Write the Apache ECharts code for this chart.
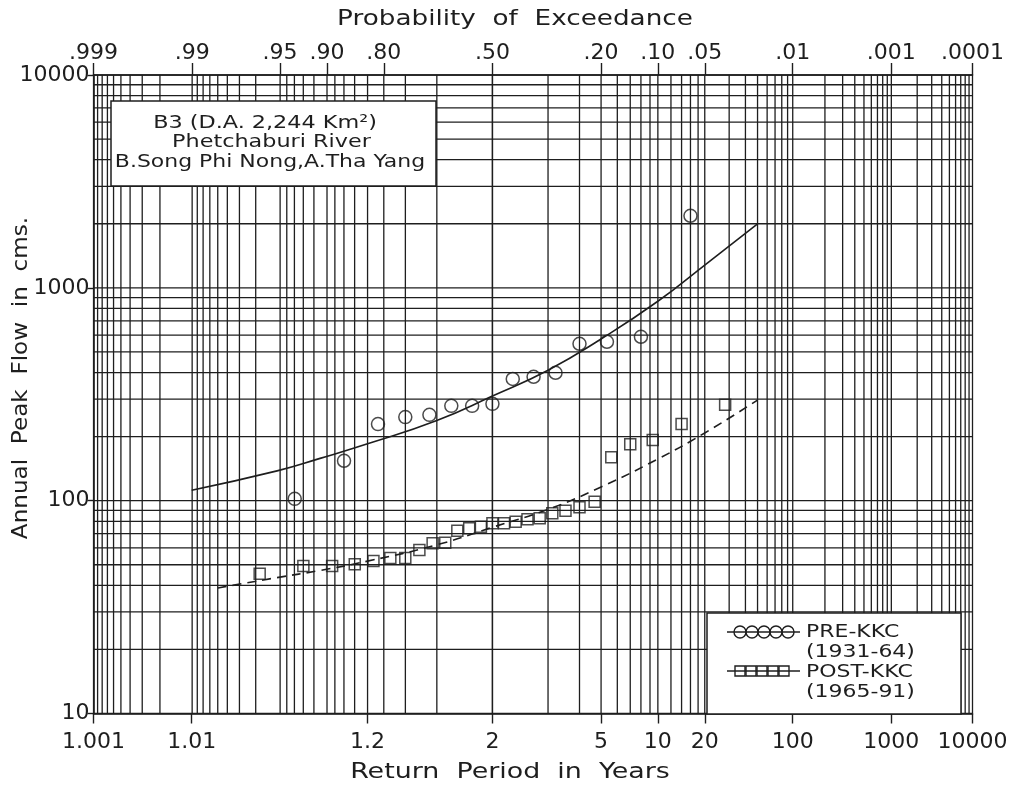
<!DOCTYPE html>
<html>
<head>
<meta charset="utf-8">
<script src="https://cdn.jsdelivr.net/npm/echarts@6/dist/echarts.min.js"></script>
<style>
html,body{margin:0;padding:0;background:#fff;}
#chart{width:1029px;height:789px;}
</style>
</head>
<body>
<div id="chart"></div>
<script>
// ---------------- data ----------------
// Bottom axis: return period ticks
const retTickValues = [1.001, 1.01, 1.2, 2, 5, 10, 20, 100, 1000, 10000];
const retTickLabels = ['1.001', '1.01', '1.2', '2', '5', '10', '20', '100', '1000', '10000'];
// Top axis: probability of exceedance ticks
const probTickValues = [0.999, 0.99, 0.95, 0.90, 0.80, 0.50, 0.20, 0.10, 0.05, 0.01, 0.001, 0.0001];
const probTickLabels = ['.999', '.99', '.95', '.90', '.80', '.50', '.20', '.10', '.05', '.01', '.001', '.0001'];
// Y axis ticks
const flowTickValues = [10, 100, 1000, 10000];
// Probability-paper grid: return periods (right half) mirrored on the left half
const gridPeriods = [2, 3, 4, 5, 6, 7, 8, 9, 10, 12, 14, 16, 18, 20, 30, 40, 50, 60, 70, 80, 90,
  100, 200, 300, 400, 500, 600, 700, 800, 900, 1000, 2000, 3000, 4000, 5000, 6000, 7000, 8000, 9000, 10000];
const gridFlows = [10, 20, 30, 40, 50, 60, 70, 80, 90, 100, 200, 300, 400, 500, 600, 700, 800, 900,
  1000, 2000, 3000, 4000, 5000, 6000, 7000, 8000, 9000, 10000];

// PRE-KKC (1931-64): observed points (return period, annual peak flow cms)
const preT = [16, 8, 5.333, 4, 3.2, 2.667, 2.286, 2, 1.778, 1.6, 1.455, 1.333, 1.231, 1.143, 1.067];
const preQ = [2180, 589, 558, 546, 399, 382, 373, 285, 279, 279, 253, 247, 229, 154, 102];
// PRE-KKC fitted curve
const preFitT = [1.01, 1.05, 1.1, 1.2, 1.5, 2, 3, 5, 10, 20, 50];
const preFitQ = [112, 138, 158, 185, 238, 310, 410, 575, 865, 1280, 2000];

// POST-KKC (1965-91): observed points
const postT = [28, 14, 9.333, 7, 5.6, 4.667, 4, 3.5, 3.111, 2.8, 2.545, 2.333, 2.154, 2, 1.867, 1.75,
  1.647, 1.556, 1.474, 1.4, 1.333, 1.273, 1.217, 1.167, 1.12, 1.077, 1.037];
const postQ = [282, 229, 193, 184, 160, 98.9, 93.1, 89.6, 87.3, 82.6, 81.8, 79.6, 78.3, 78.3, 75.5, 74.1,
  72.3, 63.5, 63.1, 58.6, 53.8, 53.8, 52, 50.3, 49.3, 49.3, 45.3];
// POST-KKC fitted curve
const postFitT = [1.017, 1.05, 1.1, 1.2, 1.5, 2, 3, 5, 10, 20, 50];
const postFitQ = [38.9, 43.5, 47, 52, 62, 75, 91, 116, 157, 208, 297];

// ---------------- normal-probability scale helpers ----------------
function normInv(p) {
  const a = [-3.969683028665376e+01, 2.209460984245205e+02, -2.759285104469687e+02, 1.383577518672690e+02, -3.066479806614716e+01, 2.506628277459239e+00];
  const b = [-5.447609879822406e+01, 1.615858368580409e+02, -1.556989798598866e+02, 6.680131188771972e+01, -1.328068155288572e+01];
  const c = [-7.784894002430293e-03, -3.223964580411365e-01, -2.400758277161838e+00, -2.549732539343734e+00, 4.374664141464968e+00, 2.938163982698783e+00];
  const d = [7.784695709041462e-03, 3.224671290700398e-01, 2.445134137142996e+00, 3.754408661907416e+00];
  const pl = 0.02425, ph = 1 - pl;
  let q, r;
  if (p < pl) {
    q = Math.sqrt(-2 * Math.log(p));
    return (((((c[0]*q+c[1])*q+c[2])*q+c[3])*q+c[4])*q+c[5]) / ((((d[0]*q+d[1])*q+d[2])*q+d[3])*q+1);
  }
  if (p <= ph) {
    q = p - 0.5; r = q * q;
    return (((((a[0]*r+a[1])*r+a[2])*r+a[3])*r+a[4])*r+a[5])*q / (((((b[0]*r+b[1])*r+b[2])*r+b[3])*r+b[4])*r+1);
  }
  q = Math.sqrt(-2 * Math.log(1 - p));
  return -(((((c[0]*q+c[1])*q+c[2])*q+c[3])*q+c[4])*q+c[5]) / ((((d[0]*q+d[1])*q+d[2])*q+d[3])*q+1);
}
const zOfP = P => normInv(1 - P);        // exceedance probability -> normal variate
const zOfT = T => normInv(1 - 1 / T);    // return period -> normal variate

const X_MIN = zOfT(1.001), X_MAX = zOfT(10000);
const Y_MIN = 10, Y_MAX = 10000;

const retTickZ = retTickValues.map(zOfT);
const probTickZ = probTickValues.map(zOfP);
const gridZ = gridPeriods.map(zOfT).concat(gridPeriods.filter(n => n <= 1000).map(n => normInv(1 / n)));

function nearestLabel(v, zs, labels) {
  let best = 0;
  for (let i = 1; i < zs.length; i++) if (Math.abs(zs[i] - v) < Math.abs(zs[best] - v)) best = i;
  return labels[best];
}

const INK = '#1e1e1e';
const FONT = 'DejaVu Sans';

const chart = echarts.init(document.getElementById('chart'), null, {renderer: 'canvas'});

function txt(text, x, y, size, sx, align, extra) {
  return Object.assign({
    type: 'text', x: x, y: y, z: 50, scaleX: sx, scaleY: 1,
    style: {text: text, fill: INK, font: size + 'px "DejaVu Sans"', textAlign: align, textVerticalAlign: 'middle'}
  }, extra || {});
}

const option = {
  animation: false,
  backgroundColor: '#ffffff',
  grid: {left: 93.5, right: 56.5, top: 75, bottom: 75.5, containLabel: false},
  xAxis: [
    {
      type: 'value', position: 'bottom', min: X_MIN, max: X_MAX,
      axisLine: {show: true, onZero: false, lineStyle: {color: INK, width: 1.6}},
      axisTick: {show: true, inside: false, length: 10, lineStyle: {color: INK, width: 1.4}, customValues: retTickZ},
      axisLabel: {show: true, customValues: retTickZ, margin: 18, color: INK, fontFamily: FONT, fontSize: 22,
        formatter: v => nearestLabel(v, retTickZ, retTickLabels)},
      splitLine: {show: false}
    },
    {
      type: 'value', position: 'top', min: X_MIN, max: X_MAX,
      axisLine: {show: true, onZero: false, lineStyle: {color: INK, width: 1.6}},
      axisTick: {show: true, inside: false, length: 12, lineStyle: {color: INK, width: 1.4}, customValues: probTickZ},
      axisLabel: {show: true, customValues: probTickZ, margin: 11, color: INK, fontFamily: FONT, fontSize: 22,
        formatter: v => nearestLabel(v, probTickZ, probTickLabels)},
      splitLine: {show: false}
    }
  ],
  yAxis: {
    type: 'log', logBase: 10, min: Y_MIN, max: Y_MAX,
    axisLine: {show: true, onZero: false, lineStyle: {color: INK, width: 1.6}},
    axisTick: {show: true, inside: false, length: 6, lineStyle: {color: INK, width: 1.4}},
    axisLabel: {show: true, margin: 4, color: INK, fontFamily: FONT, fontSize: 22,
      formatter: v => String(Math.round(v))},
    splitLine: {show: false},
    minorTick: {show: false}
  },
  series: [
    {
      name: 'vgrid', type: 'custom', silent: true, z: 1, xAxisIndex: 0, yAxisIndex: 0,
      data: gridZ.map(z => [z, Y_MIN]),
      encode: {x: 0, y: 1},
      renderItem: (params, api) => {
        const x = api.value(0);
        const a = api.coord([x, Y_MIN]);
        const b = api.coord([x, Y_MAX]);
        return {type: 'line', shape: {x1: a[0], y1: a[1], x2: b[0], y2: b[1]},
          style: {stroke: INK, lineWidth: 1.3}};
      }
    },
    {
      name: 'hgrid', type: 'custom', silent: true, z: 1, xAxisIndex: 0, yAxisIndex: 0,
      data: gridFlows.map(q => [X_MIN, q]),
      encode: {x: 0, y: 1},
      renderItem: (params, api) => {
        const y = api.value(1);
        const a = api.coord([X_MIN, y]);
        const b = api.coord([X_MAX, y]);
        return {type: 'line', shape: {x1: a[0], y1: a[1], x2: b[0], y2: b[1]},
          style: {stroke: INK, lineWidth: 1.3}};
      }
    },
    {
      name: 'PRE-KKC fit', type: 'line', z: 5, smooth: 0.5, showSymbol: false, silent: true,
      data: preFitT.map((t, i) => [zOfT(t), preFitQ[i]]),
      lineStyle: {color: INK, width: 1.6}
    },
    {
      name: 'POST-KKC fit', type: 'line', z: 5, smooth: 0.5, showSymbol: false, silent: true,
      data: postFitT.map((t, i) => [zOfT(t), postFitQ[i]]),
      lineStyle: {color: INK, width: 1.6, type: [9, 6]}
    },
    {
      name: 'PRE-KKC', type: 'scatter', z: 6, symbol: 'circle', symbolSize: 13, silent: true,
      data: preT.map((t, i) => [zOfT(t), preQ[i]]),
      itemStyle: {color: 'rgba(255,255,255,0)', borderColor: INK, borderWidth: 1.5}
    },
    {
      name: 'POST-KKC', type: 'scatter', z: 6, symbol: 'rect', symbolSize: 11, silent: true,
      data: postT.map((t, i) => [zOfT(t), postQ[i]]),
      itemStyle: {color: 'rgba(255,255,255,0)', borderColor: INK, borderWidth: 1.5}
    }
  ],
  graphic: {
    elements: [
      // axis titles
      txt('Probability  of  Exceedance', 515, 20, 21, 1.25, 'center'),
      txt('Return  Period  in  Years', 510, 773, 21, 1.28, 'center'),
      {type: 'text', x: 22, y: 378, rotation: Math.PI / 2, scaleX: 1.1, scaleY: 1, z: 50,
        style: {text: 'Annual  Peak  Flow  in  cms.', fill: INK, font: '21px "DejaVu Sans"', textAlign: 'center', textVerticalAlign: 'middle'}},
      // station box
      {type: 'rect', z: 40, shape: {x: 111, y: 101, width: 325, height: 85},
        style: {fill: '#fff', stroke: INK, lineWidth: 1.5}},
      txt('B3 (D.A. 2,244 Km²)', 265, 123, 18, 1.24, 'center'),
      txt('Phetchaburi River', 271.5, 142, 18, 1.24, 'center'),
      txt('B.Song Phi Nong,A.Tha Yang', 270, 162, 18, 1.22, 'center'),
      // legend box
      {type: 'rect', z: 40, shape: {x: 707, y: 613, width: 254, height: 101},
        style: {fill: '#fff', stroke: INK, lineWidth: 1.5}},
      {type: 'line', z: 41, shape: {x1: 727, y1: 632, x2: 800, y2: 632}, style: {stroke: INK, lineWidth: 1.4}},
      {type: 'circle', z: 42, shape: {cx: 740, cy: 632, r: 6}, style: {fill: 'none', stroke: INK, lineWidth: 1.4}},
      {type: 'circle', z: 42, shape: {cx: 752, cy: 632, r: 6}, style: {fill: 'none', stroke: INK, lineWidth: 1.4}},
      {type: 'circle', z: 42, shape: {cx: 764, cy: 632, r: 6}, style: {fill: 'none', stroke: INK, lineWidth: 1.4}},
      {type: 'circle', z: 42, shape: {cx: 776, cy: 632, r: 6}, style: {fill: 'none', stroke: INK, lineWidth: 1.4}},
      {type: 'circle', z: 42, shape: {cx: 788, cy: 632, r: 6}, style: {fill: 'none', stroke: INK, lineWidth: 1.4}},
      {type: 'line', z: 41, shape: {x1: 727, y1: 671, x2: 800, y2: 671}, style: {stroke: INK, lineWidth: 1.4}},
      {type: 'rect', z: 42, shape: {x: 735, y: 666, width: 10, height: 10}, style: {fill: 'none', stroke: INK, lineWidth: 1.4}},
      {type: 'rect', z: 42, shape: {x: 746, y: 666, width: 10, height: 10}, style: {fill: 'none', stroke: INK, lineWidth: 1.4}},
      {type: 'rect', z: 42, shape: {x: 757, y: 666, width: 10, height: 10}, style: {fill: 'none', stroke: INK, lineWidth: 1.4}},
      {type: 'rect', z: 42, shape: {x: 768, y: 666, width: 10, height: 10}, style: {fill: 'none', stroke: INK, lineWidth: 1.4}},
      {type: 'rect', z: 42, shape: {x: 779, y: 666, width: 10, height: 10}, style: {fill: 'none', stroke: INK, lineWidth: 1.4}},
      txt('PRE-KKC', 806, 632, 18, 1.22, 'left'),
      txt('(1931-64)', 806, 652, 18, 1.22, 'left'),
      txt('POST-KKC', 806, 672, 18, 1.22, 'left'),
      txt('(1965-91)', 806, 692, 18, 1.22, 'left')
    ]
  }
};
chart.setOption(option);
</script>
</body>
</html>
